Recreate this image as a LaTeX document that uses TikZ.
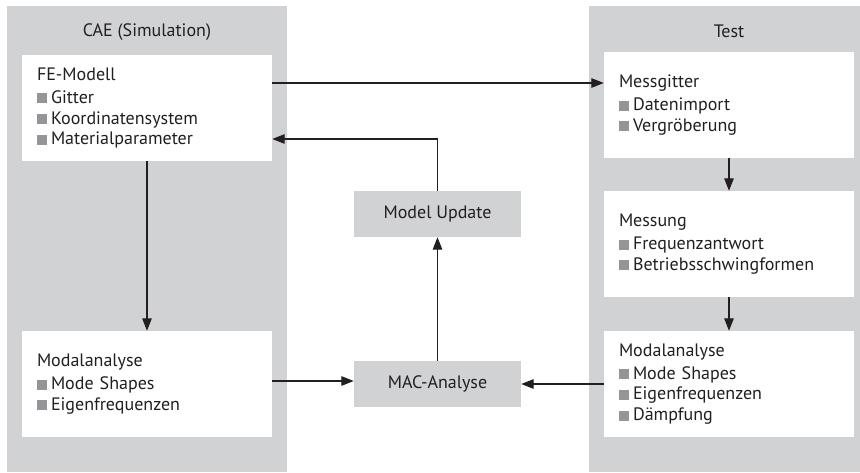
\documentclass[tikz,border=0pt]{standalone}
\usepackage{fontspec}
\setmainfont{PT Sans}
\usetikzlibrary{arrows.meta,calc}
\definecolor{panelgray}{HTML}{D1D2D4}
\definecolor{bulletgray}{HTML}{939598}
\definecolor{txt}{HTML}{231F20}
\newcommand{\bul}{\textcolor{bulletgray}{\rule{10pt}{10pt}}\hspace{4pt}}
\begin{document}
\begin{tikzpicture}[x=1pt,y=-1pt,
  font=\fontsize{18}{20.6}\selectfont,
  panel/.style={fill=panelgray,draw=none},
  wbox/.style={fill=white,draw=none,minimum width=250pt,minimum height=106pt,
    text width=220pt,align=left,inner xsep=15pt,inner ysep=0pt,text=txt},
  gbox/.style={fill=panelgray,draw=none,minimum width=167pt,minimum height=46pt,
    inner sep=0pt,text=txt},
  ttl/.style={text=txt,inner sep=0pt},
  arr/.style={draw=txt,line width=1.2pt,-{Triangle[length=12.5pt,width=9.5pt]}}]
\useasboundingbox (0,0) rectangle (860,472);
\fill[white] (0,0) rectangle (860,472);
\path[panel] (7,6) rectangle (287,472);
\path[panel] (589,6) rectangle (869,472);
\node[ttl] (tl) at (147,32) {CAE (Simulation)};
\node[ttl] (tr) at (729,31) {Test};
\node[wbox] (fe) at (147,108) {FE-Modell\\[2.5pt]\bul Gitter\\\bul Koordinatensystem\\\bul Materialparameter};
\node[wbox] (cmod) at (147,384) {Modalanalyse\\[2.5pt]\bul Mode Shapes\\\bul Eigenfrequenzen};
\node[wbox] (mg) at (729,105) {Messgitter\\[2.5pt]\bul Datenimport\\\bul Vergröberung};
\node[wbox] (mes) at (729,244) {Messung\\[2.5pt]\bul Frequenzantwort\\\bul Betriebsschwingformen};
\node[wbox] (tmod) at (729,384) {Modalanalyse\\[2.5pt]\bul Mode Shapes\\\bul Eigenfrequenzen\\\bul Dämpfung};
\node[gbox] (upd) at (437.5,214) {Model Update};
\node[gbox] (mac) at (437.5,384) {MAC-Analyse};
\draw[arr] ([yshift=25pt]fe.east) -- ([yshift=22pt]mg.west);
\draw[arr] (upd.north) |- ([yshift=-31pt]fe.east);
\draw[arr] (fe.south) -- (cmod.north);
\draw[arr] (mg.south) -- (mes.north);
\draw[arr] (mes.south) -- (tmod.north);
\draw[arr] ([yshift=3pt]cmod.east) -- ([yshift=3pt]mac.west);
\draw[arr] (tmod.west) -- (mac.east);
\draw[arr] (mac.north) -- (upd.south);
\end{tikzpicture}
\end{document}
